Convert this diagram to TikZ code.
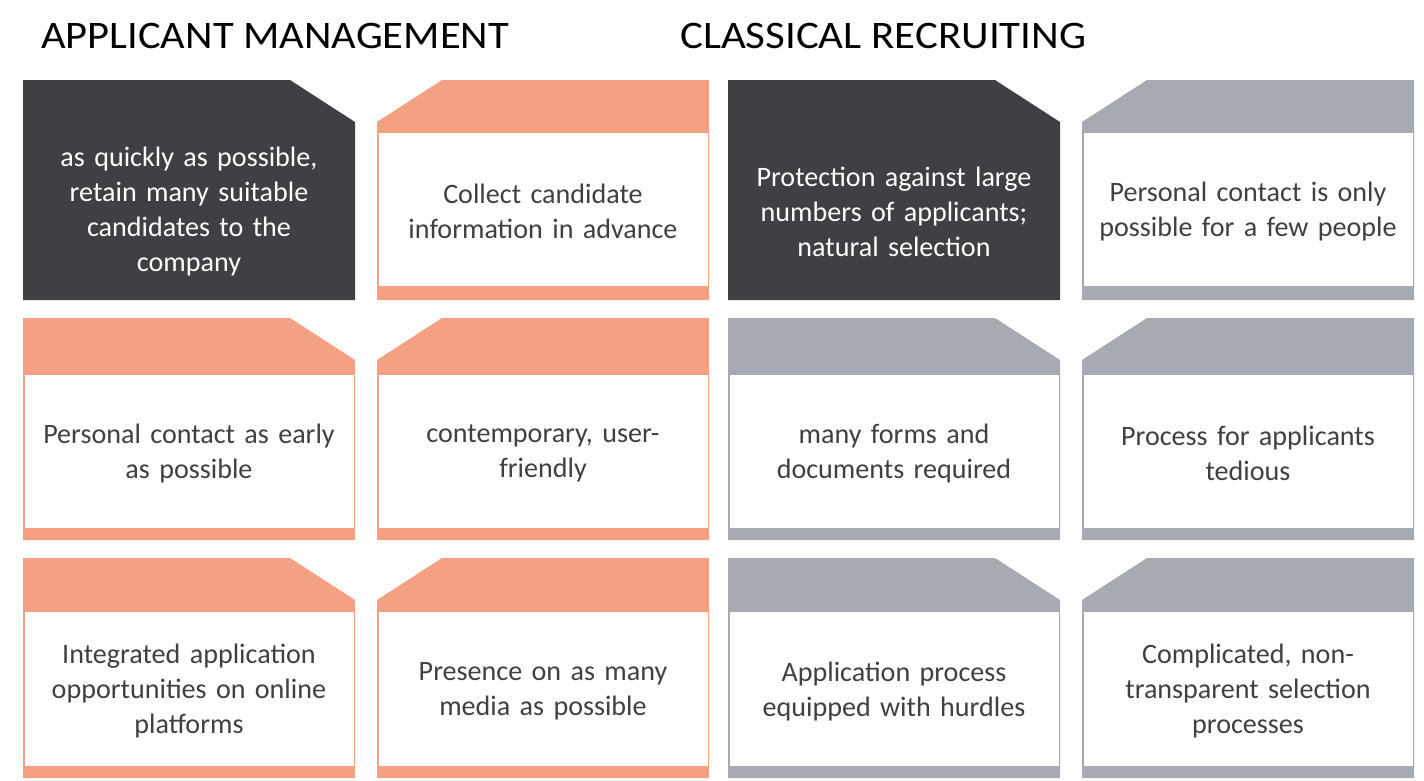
\documentclass[tikz,border=0pt]{standalone}
\usepackage{fontspec}
\setmainfont{Carlito}
\definecolor{orng}{HTML}{F4A082}
\definecolor{gry}{HTML}{A8AAB1}
\definecolor{drk}{HTML}{3F4043}
\definecolor{txtc}{HTML}{404040}
\tikzset{
  cardtext/.style={align=center,text width=320pt,font=\fontsize{28.1}{35}\selectfont,inner sep=0pt},
  titletext/.style={anchor=west,font=\fontsize{39}{44}\selectfont,text=black,inner sep=0pt},
}
% row geometry: top, tab bottom, body bottom, strip bottom
\def\rowtopA{80}\def\rowtabA{133}\def\rowbodA{286}\def\rowbotA{300}
\def\rowtopB{318}\def\rowtabB{375}\def\rowbodB{528}\def\rowbotB{540}
\def\rowtopC{558}\def\rowtabC{612}\def\rowbodC{766}\def\rowbotC{778}
% #1 left, #2 row key, #3 R/L chamfer, #4 colour, #5 body colour, #6 name, #7 text colour, #8 text
\newcommand\mycard[8]{%
  \edef\ct{\csname rowtop#2\endcsname}%
  \edef\cb{\csname rowtab#2\endcsname}%
  \edef\cd{\csname rowbod#2\endcsname}%
  \edef\ce{\csname rowbot#2\endcsname}%
  \def\tmpside{#3}\def\tmpR{R}%
  \ifx\tmpside\tmpR
    \fill[#4] (#1,\ct) -- (#1+267,\ct) -- (#1+332,\ct+42) -- (#1+332,\ce) -- (#1,\ce) -- cycle;
  \else
    \fill[#4] (#1,\ct+42) -- (#1+65,\ct) -- (#1+332,\ct) -- (#1+332,\ce) -- (#1,\ce) -- cycle;
  \fi
  \fill[#5] (#1+1.5,\cb) rectangle (#1+330.5,\cd);
  \node[cardtext,text=#7] (#6) at (#1+166,{(\cb+\cd)/2+2}) {#8};
}
\begin{document}
\begin{tikzpicture}[x=1pt,y=-1pt]
\useasboundingbox (0,0) rectangle (1424,780);
\node[titletext] (t1) at (41,36) {\scalebox{1.09}[1]{APPLICANT MANAGEMENT}};
\node[titletext] (t2) at (680,36) {\scalebox{1.1}[1]{CLASSICAL RECRUITING}};
% row 1
\mycard{23}{A}{R}{drk}{drk}{c11}{white}{as quickly as possible,\\retain many suitable\\candidates to the\\company}
\mycard{377}{A}{L}{orng}{white}{c12}{txtc}{Collect candidate\\information in advance}
\mycard{728}{A}{R}{drk}{drk}{c13}{white}{Protection against large\\numbers of applicants;\\natural selection}
\mycard{1082}{A}{L}{gry}{white}{c14}{txtc}{Personal contact is only\\possible for a few people}
% row 2
\mycard{23}{B}{R}{orng}{white}{c21}{txtc}{Personal contact as early\\as possible}
\mycard{377}{B}{L}{orng}{white}{c22}{txtc}{contemporary, user-\\friendly}
\mycard{728}{B}{R}{gry}{white}{c23}{txtc}{many forms and\\documents required}
\mycard{1082}{B}{L}{gry}{white}{c24}{txtc}{Process for applicants\\tedious}
% row 3
\mycard{23}{C}{R}{orng}{white}{c31}{txtc}{Integrated application\\opportunities on online\\platforms}
\mycard{377}{C}{L}{orng}{white}{c32}{txtc}{Presence on as many\\media as possible}
\mycard{728}{C}{R}{gry}{white}{c33}{txtc}{Application process\\equipped with hurdles}
\mycard{1082}{C}{L}{gry}{white}{c34}{txtc}{Complicated, non-\\transparent selection\\processes}
\end{tikzpicture}
\end{document}
